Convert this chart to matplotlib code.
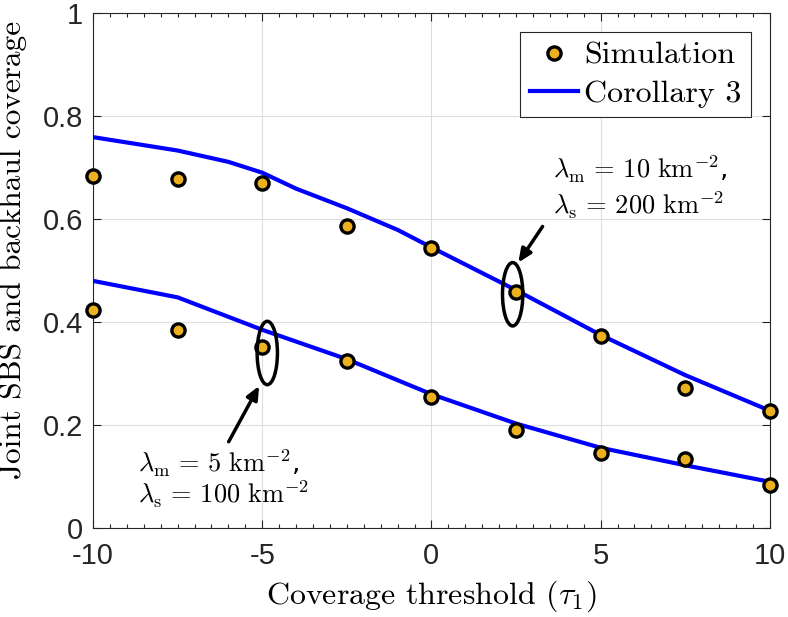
import matplotlib
matplotlib.use('Agg')
import matplotlib.pyplot as plt
from matplotlib.patches import Ellipse
from matplotlib.ticker import MultipleLocator

# simulation points
x_sim = [-10, -7.5, -5, -2.5, 0, 2.5, 5, 7.5, 10]
sim_high = [0.684, 0.678, 0.669, 0.587, 0.543, 0.459, 0.372, 0.272, 0.227]
sim_low = [0.423, 0.384, 0.351, 0.324, 0.254, 0.190, 0.145, 0.135, 0.083]

# analytical curves (Corollary 3)
x_high = [-10, -7.5, -6, -5, -4, -2.5, -1, 0, 2.5, 5, 7.5, 10]
cor_high = [0.759, 0.733, 0.711, 0.690, 0.659, 0.621, 0.579, 0.545, 0.462, 0.375, 0.297, 0.228]
x_low = [-10, -7.5, -5, -2.5, 0, 2.5, 5, 7.5, 10]
cor_low = [0.480, 0.448, 0.385, 0.328, 0.260, 0.203, 0.156, 0.122, 0.090]

xticks = [-10, -5, 0, 5, 10]
yticks = [0, 0.2, 0.4, 0.6, 0.8, 1]

plt.rcParams['mathtext.fontset'] = 'cm'
plt.rcParams['axes.unicode_minus'] = False

fig = plt.figure(figsize=(7.88, 6.17), dpi=100)
ax = fig.add_axes([0.118, 0.144, 0.859, 0.835])

sim, = ax.plot(x_sim, sim_high, 'o', ms=9.5, mfc='#EDB120', mec='k', mew=2.4,
               zorder=4, clip_on=False)
ax.plot(x_sim, sim_low, 'o', ms=9.5, mfc='#EDB120', mec='k', mew=2.4,
        zorder=4, clip_on=False)
cor, = ax.plot(x_high, cor_high, color='#0000ff', lw=3, zorder=3)
ax.plot(x_low, cor_low, color='#0000ff', lw=3, zorder=3)

ax.set_xlim(-10, 10)
ax.set_ylim(0, 1)
ax.set_xticks(xticks)
ax.set_xticklabels([str(v) for v in xticks])
ax.set_yticks(yticks)
ax.set_yticklabels(['0', '0.2', '0.4', '0.6', '0.8', '1'])
ax.xaxis.set_minor_locator(MultipleLocator(0.5))
ax.tick_params(which='both', direction='in', top=True, right=True,
               color='#262626', width=0.8)
ax.tick_params(which='major', length=6, labelsize=21, pad=7)
ax.tick_params(axis='x', which='major', pad=10)
ax.tick_params(which='minor', length=3)
for lab in ax.get_xticklabels() + ax.get_yticklabels():
    lab.set_family('Liberation Sans')
    lab.set_color('#262626')
for s in ax.spines.values():
    s.set_color('#262626')
    s.set_linewidth(0.8)
ax.grid(True, color='#dedede', lw=0.8)
ax.set_axisbelow(True)

ax.set_xlabel(r'Coverage threshold $(\tau_1)$', family='cmr10', fontsize=23, labelpad=6)
ax.set_ylabel('Joint SBS and backhaul coverage', family='cmr10', fontsize=22.5)
ax.yaxis.set_label_coords(-0.097, 0.54)

# ellipses and arrows
ax.add_patch(Ellipse((2.4, 0.454), 0.6, 0.123, fill=False, ec='k', lw=2.5, zorder=5))
ax.add_patch(Ellipse((-4.85, 0.34), 0.6, 0.123, fill=False, ec='k', lw=2.5, zorder=5))
ax.annotate('', xy=(2.52, 0.511), xytext=(3.33, 0.590),
            arrowprops=dict(arrowstyle='-|>,head_length=0.8,head_width=0.35', color='k', lw=2.5))
ax.annotate('', xy=(-5.05, 0.281), xytext=(-6.03, 0.163),
            arrowprops=dict(arrowstyle='-|>,head_length=0.8,head_width=0.35', color='k', lw=2.5))

ax.text(3.59, 0.697, r'$\lambda_{\rm m}\, =\, 10\ {\rm km}^{-2}$,', fontsize=19, va='center')
ax.text(3.59, 0.627, r'$\lambda_{\rm s}\, =\, 200\ {\rm km}^{-2}$', fontsize=19, va='center')
ax.text(-8.67, 0.125, r'$\lambda_{\rm m}\, =\, 5\ {\rm km}^{-2}$,', fontsize=19, va='center')
ax.text(-8.67, 0.066, r'$\lambda_{\rm s}\, =\, 100\ {\rm km}^{-2}$', fontsize=19, va='center')

leg = ax.legend([sim, cor], ['Simulation', 'Corollary 3'], loc='upper right',
                bbox_to_anchor=(0.972, 0.963), borderaxespad=0,
                prop={'family': 'cmr10', 'size': 23}, fancybox=False, framealpha=1,
                edgecolor='#262626', handlelength=1.5, handletextpad=0.2,
                borderpad=0.3, labelspacing=0.3)
leg.get_frame().set_linewidth(0.8)

fig.savefig('out.png', dpi=100)
